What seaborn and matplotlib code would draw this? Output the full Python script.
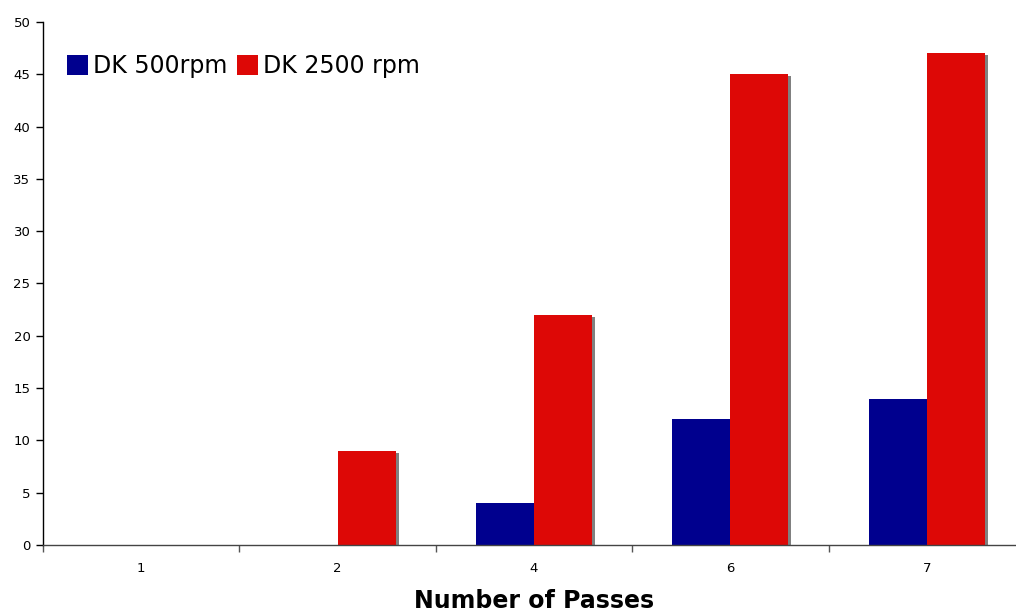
import matplotlib
matplotlib.use('Agg')
import matplotlib.pyplot as plt
import matplotlib.patheffects as pe
import seaborn as sns
import pandas as pd
import numpy as np

passes = ['1', '2', '4', '6', '7']
dk_500 = [0, 0, 4, 12, 14]
dk_2500 = [0, 9, 22, 45, 47]
series = ['DK 500rpm', 'DK 2500 rpm']
colors = ['#00008E', '#DD0806']

df = pd.DataFrame({
    'Passes': passes * 2,
    'Value': dk_500 + dk_2500,
    'Series': [series[0]] * len(passes) + [series[1]] * len(passes),
})

sns.set_style('white')
plt.rcParams['font.family'] = ['DejaVu Sans']
plt.rcParams['text.color'] = 'black'
plt.rcParams['axes.labelcolor'] = 'black'
plt.rcParams['xtick.color'] = 'black'
plt.rcParams['ytick.color'] = 'black'

fig = plt.figure(figsize=(10.16, 6.14), dpi=100)
# plot area runs a bit past the right edge, as in the original
ax = fig.add_axes([0.0423, 0.1124, 0.9665, 0.8518])

sns.barplot(data=df, x='Passes', y='Value', hue='Series', order=passes,
            hue_order=series, palette=colors, width=0.59, gap=0,
            saturation=1, errorbar=None, ax=ax, linewidth=0)

# drop shadow on bars, like the original spreadsheet chart
for p in ax.patches:
    if p.get_height() > 0:
        p.set_path_effects([pe.SimplePatchShadow(offset=(2.2, -1.5), shadow_rgbFace='#808080', alpha=1),
                            pe.Normal()])

ax.set_xlim(-0.5, len(passes) - 0.5)
ax.set_ylim(0, 50)
ax.set_yticks(np.arange(0, 51, 5))
ax.tick_params(axis='y', labelsize=9.5, length=5, width=1, color='black', left=True, pad=4)
ax.set_xticks(np.arange(-0.5, len(passes), 1), minor=True)
ax.tick_params(axis='x', which='major', length=0, labelsize=9.5, pad=12)
ax.tick_params(axis='x', which='minor', length=5, width=1, color='#555555', bottom=True)

sns.despine(ax=ax)
ax.spines['left'].set_color('black')
ax.spines['left'].set_linewidth(1)
ax.spines['bottom'].set_color('#444444')
ax.spines['bottom'].set_linewidth(1)

ax.set_xlabel('Number of Passes', fontsize=17, fontweight='bold', labelpad=10)
ax.set_ylabel('')

ax.legend(loc='upper left', bbox_to_anchor=(0.015, 0.957), ncol=2, frameon=False,
          fontsize=17, handlelength=0.9, handleheight=0.9, handletextpad=0.2,
          columnspacing=0.4, borderaxespad=0)

fig.savefig('out.png', dpi=100)
